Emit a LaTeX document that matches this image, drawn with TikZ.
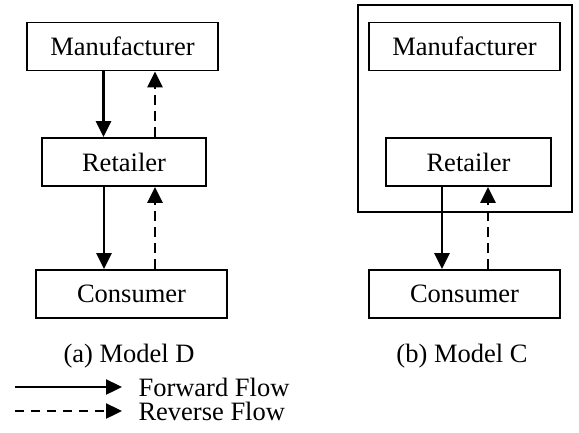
\documentclass[tikz,border=0pt]{standalone}
\usepackage{fontspec}
\setmainfont{Liberation Serif}
\usetikzlibrary{arrows.meta}

\tikzset{
    party/.style={draw, line width=1.8pt, minimum height=48pt, inner sep=0pt},
    flow/.style={line width=2.4pt, -{Triangle[width=15pt,length=16pt]}},
    rflow/.style={flow, dash pattern=on 10pt off 6pt},
}

\begin{document}
\begin{tikzpicture}[x=1pt, y=-1pt, font=\fontsize{26.5}{30}\selectfont]
    \useasboundingbox (0,0) rectangle (579,432);

    % Model D: retailer sits between the two
    \node[party, minimum width=191pt] (manA) at (122.5,46.5) {Manufacturer};
    \node[party, minimum width=164pt] (retA) at (124,162) {Retailer};
    \node[party, minimum width=191pt] (conA) at (131.5,294) {Consumer};
    \draw[flow]  ([xshift=-19pt]manA.south) -- ([xshift=-19pt]manA.south |- retA.north);
    \draw[rflow] ([xshift=31pt]retA.north) -- ([xshift=31pt]retA.north |- manA.south);
    \draw[flow]  ([xshift=-20pt]retA.south) -- ([xshift=-20pt]retA.south |- conA.north);
    \draw[rflow] ([xshift=31pt]retA.south |- conA.north) -- ([xshift=31pt]retA.south);
    \node (capA) at (129,356) {(a) Model D};

    % Model C: manufacturer owns the retailer
    \node[party, minimum width=214pt, minimum height=207pt] (firm) at (465,108.5) {};
    \node[party, minimum width=191pt] (manB) at (464.5,46.5) {Manufacturer};
    \node[party, minimum width=165pt] (retB) at (468.5,162) {Retailer};
    \node[party, minimum width=191pt] (conB) at (464.5,294) {Consumer};
    \draw[flow]  ([xshift=-26.5pt]retB.south) -- ([xshift=-26.5pt]retB.south |- conB.north);
    \draw[rflow] ([xshift=19.5pt]retB.south |- conB.north) -- ([xshift=19.5pt]retB.south);
    \node (capB) at (462,356) {(b) Model C};

    % legend
    \coordinate (fwdS) at (15,387);
    \coordinate (fwdE) at (122,387);
    \coordinate (revS) at (15,411);
    \coordinate (revE) at (122,411);
    \draw[flow] (fwdS) -- (fwdE);
    \draw[rflow, dash pattern=on 9pt off 7pt] (revS) -- (revE);
    \node[anchor=west] (fwdL) at (135,387) {Forward Flow};
    \node[anchor=west] (revL) at (135,411) {Reverse Flow};
\end{tikzpicture}
\end{document}
